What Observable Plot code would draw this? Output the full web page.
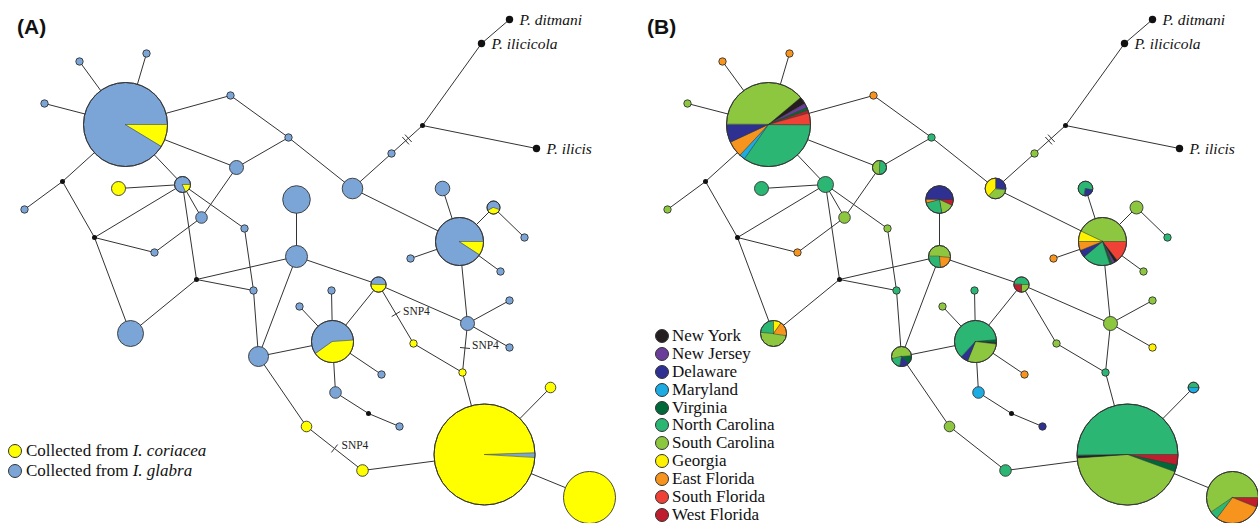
<!DOCTYPE html>
<html><head><meta charset="utf-8">
<script src="https://cdn.jsdelivr.net/npm/d3@7"></script>
<script src="https://cdn.jsdelivr.net/npm/@observablehq/plot@0.6"></script>
<style>
html,body{margin:0;padding:0;background:#fff;}
#wrap{position:relative;width:1258px;height:523px;overflow:hidden;background:#fff;}
.panel{position:absolute;top:0;}
.tag{position:absolute;top:15px;font-family:Arial,"Liberation Sans",sans-serif;font-weight:bold;font-size:21px;color:#111;}
.legend{position:absolute;font-family:"Liberation Serif","Times New Roman",serif;font-size:17px;color:#111;}
.legend .row{display:flex;align-items:center;white-space:nowrap;}
.legend .sw{display:inline-block;box-sizing:border-box;border:1px solid #333;border-radius:50%;}
</style></head>
<body>
<div id="wrap">
  <div class="panel" id="pA" style="left:0;width:643px"></div>
  <div class="panel" id="pB" style="left:643px;width:615px"></div>
  <div class="tag" style="left:17px">(A)</div>
  <div class="tag" style="left:647px">(B)</div>
  <div class="legend" id="legA" style="left:8px;top:441px"></div>
  <div class="legend" id="legB" style="left:655px;top:327px"></div>
</div>
<script>
// ---- network layout: id, x, y, radius (same layout in both panels) ----
const nodes = [
 ["n1",125,124,42],["n2",79,61,3.7],["n3",146,53,3.7],["n4",44,103,3.7],
 ["n5",230,95,3.7],["n6",288,137,3.7],["n7",236,167,7],["n8",182,184,8],
 ["n9",118,188,7],["b1",62,181,2.5],["n10",24,209,3.7],["b2",94,237,2.5],
 ["n11",201,217,5.8],["n12",244,228,3.7],["n13",154,252,3.7],["n14",296,199,13.8],
 ["n15",296,256,11],["b3",196,279,2.5],["n16",253,290,3.7],["n17",130,333,13],
 ["n18",258,356,10],["n19",306,426,5.3],["n20",299,306,3.7],["n21",332,341,21],
 ["n22",331,290,3.7],["n23",381,374,3.7],["n24",335,392,5.8],["b4",368,413,2.5],
 ["n25",399,426,3.7],["n26",378,284,7.6],["n27",467,323,7],["n28",413,343,3.7],
 ["n29",462,372,3.7],["n30",509,300,3.7],["n31",509,347,3.7],["n32",484,454,50.5],
 ["n33",550,387,5.3],["n34",589,497,26],["n35",362,470,5.8],["n36",410,258,3.7],
 ["n37",459,241,24],["n38",442,188,7.3],["n39",493,207,6.5],["n40",524,237,3.7],
 ["n41",352,188,10.3],["n42",391,153,3.7],["n43",500,271,3.7],["b5",422,125,2.5],
 ["ditmani",509,19,3.7],["ilicicola",481,43,3.7],["ilicis",536,148,3.7]
];
const edges = [
 ["n1","n2"],["n1","n3"],["n1","n4"],["n1","n5"],["n1","n7"],["n1","n8"],["n1","b1"],
 ["n5","n6"],["n6","n7"],["n6","n41"],["b1","n10"],["b1","b2"],
 ["n8","n9"],["n8","b2"],["n8","n11"],["n8","n12"],["n8","b3"],
 ["b2","n13"],["b2","n17"],["n11","n7"],["n11","n13"],["n12","n16"],
 ["n14","n15"],["b3","n15"],["b3","n16"],["b3","n17"],["n16","n18"],["n15","n18"],["n15","n26"],
 ["n18","n21"],["n18","n19"],["n21","n20"],["n21","n22"],["n21","n23"],["n21","n24"],["n21","n26"],
 ["n24","b4"],["b4","n25"],["n26","n27"],["n26","n28"],["n28","n29"],
 ["n27","n37"],["n27","n30"],["n27","n31"],["n27","n29"],["n29","n32"],
 ["n32","n33"],["n32","n34"],["n32","n35"],["n35","n19"],
 ["n37","n36"],["n37","n38"],["n37","n39"],["n37","n43"],["n37","n41"],["n39","n40"],
 ["n41","n42"],["n42","b5"],["b5","ilicicola"],["ilicicola","ditmani"],["b5","ilicis"]
];
const blackNodes = ["b1","b2","b3","b4","b5","ditmani","ilicicola","ilicis"];
const outgroupLabels = [["ditmani","P. ditmani"],["ilicicola","P. ilicicola"],["ilicis","P. ilicis"]];
const snpEdges = [["n26","n28","SNP4"],["n27","n29","SNP4"],["n19","n35","SNP4"]];
const hashEdges = [["n42","b5"]];

// ---- panel A: host plant ----
const hosts = ["I. coriacea","I. glabra"];
const hostColors = ["#ffff00","#7ba5d7"];
const coriaceaNodes = ["n9","n19","n28","n29","n32","n33","n34","n35"];
// node, host, start angle, end angle (degrees clockwise from east)
const hostSlices = [
 ["n1","I. coriacea",0,31],["n8","I. coriacea",0,65],["n21","I. coriacea",-4,144],
 ["n26","I. coriacea",0,180],["n32","I. glabra",-2,3],["n37","I. coriacea",0,33],
 ["n39","I. coriacea",20,150]
];

// ---- panel B: geographic region ----
const regions = ["New York","New Jersey","Delaware","Maryland","Virginia","North Carolina","South Carolina","Georgia","East Florida","South Florida","West Florida"];
const regionColors = ["#231f20","#6a3d9a","#2e3192","#1cabe2","#00693a","#2bb673","#8dc63f","#fff200","#f7941d","#ef4136","#be1e2d"];
const regionBase = [
 ["n1","South Carolina"],["n2","East Florida"],["n3","East Florida"],["n4","South Carolina"],
 ["n5","East Florida"],["n6","North Carolina"],["n7","North Carolina"],["n8","North Carolina"],
 ["n9","North Carolina"],["n10","South Carolina"],["n11","South Carolina"],["n12","South Carolina"],
 ["n13","East Florida"],["n14","Delaware"],["n15","South Carolina"],["n16","North Carolina"],
 ["n17","South Carolina"],["n18","South Carolina"],["n19","South Carolina"],["n20","South Carolina"],
 ["n21","North Carolina"],["n22","North Carolina"],["n23","East Florida"],["n24","Maryland"],
 ["n25","Delaware"],["n26","North Carolina"],["n27","South Carolina"],["n28","South Carolina"],
 ["n29","North Carolina"],["n30","South Carolina"],["n31","Georgia"],["n32","North Carolina"],
 ["n33","North Carolina"],["n34","South Carolina"],["n35","North Carolina"],["n36","East Florida"],
 ["n37","South Carolina"],["n38","North Carolina"],["n39","South Carolina"],["n40","North Carolina"],
 ["n41","South Carolina"],["n42","South Carolina"],["n43","South Carolina"]
];
const regionSlices = [
 ["n1","North Carolina",0,125],["n1","Maryland",125,133],["n1","East Florida",133,155],["n1","Delaware",155,180],
 ["n1","New York",320,330],["n1","New Jersey",330,336],["n1","Virginia",336,340],["n1","West Florida",340,344],["n1","South Florida",344,360],
 ["n7","South Carolina",90,270],
 ["n14","West Florida",0,25],["n14","South Carolina",25,80],["n14","North Carolina",80,165],["n14","East Florida",165,180],
 ["n15","East Florida",5,85],["n15","North Carolina",85,180],
 ["n17","North Carolina",185,270],["n17","Georgia",270,305],["n17","East Florida",305,368],
 ["n18","Virginia",-5,45],["n18","Delaware",45,100],["n18","North Carolina",100,165],
 ["n21","Virginia",355,363],["n21","New York",363,367],["n21","South Carolina",367,472],["n21","Delaware",472,492],
 ["n26","South Carolina",0,90],["n26","West Florida",90,180],
 ["n32","West Florida",0,12],["n32","Virginia",12,20],["n32","South Carolina",20,176],["n32","New York",176,179],
 ["n33","Maryland",0,180],
 ["n34","West Florida",0,22],["n34","East Florida",22,127],["n34","North Carolina",127,145],
 ["n37","South Florida",0,52],["n37","New York",52,60],["n37","New Jersey",60,66],["n37","Virginia",66,72],
 ["n37","North Carolina",72,140],["n37","Delaware",140,158],["n37","East Florida",158,180],["n37","Georgia",180,205],
 ["n38","Delaware",10,100],
 ["n41","Delaware",-90,5],["n41","Georgia",133,270]
];

const pos = new Map(nodes.map(d => [d[0], {id: d[0], x: d[1], y: d[2], r: d[3]}]));

function drawPanel(width, baseColor, slices, showSnp) {
  const nodeData = nodes.map(d => ({...pos.get(d[0]), fill: baseColor(d[0])}));
  const edgeData = edges.map(([a, b]) => ({x1: pos.get(a).x, y1: pos.get(a).y, x2: pos.get(b).x, y2: pos.get(b).y}));
  // pie wedges
  const wedge = [];
  slices.forEach((s, i) => {
    const n = pos.get(s[0]);
    const id = s[0] + "-" + i;
    wedge.push({id, x: n.x, y: n.y, fill: s[1]});
    const a0 = s[2], a1 = s[3];
    const steps = Math.max(2, Math.ceil((a1 - a0) / 2));
    for (let k = 0; k <= steps; k++) {
      const t = (a0 + (a1 - a0) * k / steps) * Math.PI / 180;
      wedge.push({id, x: n.x + n.r * Math.cos(t), y: n.y + n.r * Math.sin(t), fill: s[1]});
    }
  });
  const pieIds = new Set(slices.map(s => s[0]));
  const pieNodes = nodeData.filter(d => pieIds.has(d.id));
  // mutation ticks
  const ticks = [];
  function addTicks(a, b, offsets) {
    const p = pos.get(a), q = pos.get(b);
    const dx = q.x - p.x, dy = q.y - p.y, L = Math.hypot(dx, dy);
    const ux = dx / L, uy = dy / L, nx = -uy, ny = ux;
    const mx = (p.x + q.x) / 2, my = (p.y + q.y) / 2;
    for (const o of offsets) {
      const cx = mx + ux * o, cy = my + uy * o;
      ticks.push({x1: cx - nx * 5, y1: cy - ny * 5, x2: cx + nx * 5, y2: cy + ny * 5});
    }
  }
  hashEdges.forEach(([a, b]) => addTicks(a, b, [-1.8, 1.8]));
  const snpLabels = [];
  if (showSnp) snpEdges.forEach(([a, b, lab]) => {
    addTicks(a, b, [0]);
    const p = pos.get(a), q = pos.get(b);
    snpLabels.push({x: (p.x + q.x) / 2, y: (p.y + q.y) / 2, label: lab});
  });
  const labels = outgroupLabels.map(([id, lab]) => ({x: pos.get(id).x, y: pos.get(id).y, label: lab}));
  const isBlack = new Set(blackNodes);

  return Plot.plot({
    width, height: 523, margin: 0,
    style: {background: "#fff", overflow: "visible"},
    x: {domain: [0, width], range: [0, width], axis: null},
    y: {domain: [0, 523], range: [0, 523], axis: null},
    r: {type: "identity"},
    color: {type: "identity"},
    marks: [
      Plot.link(edgeData, {x1: "x1", y1: "y1", x2: "x2", y2: "y2", stroke: "#333", strokeWidth: 1}),
      Plot.link(ticks, {x1: "x1", y1: "y1", x2: "x2", y2: "y2", stroke: "#333", strokeWidth: 1}),
      Plot.dot(nodeData.filter(d => !isBlack.has(d.id)), {x: "x", y: "y", r: "r", fill: "fill", stroke: "#333", strokeWidth: 0.9}),
      Plot.dot(nodeData.filter(d => isBlack.has(d.id)), {x: "x", y: "y", r: "r", fill: "#111"}),
      Plot.line(wedge, {x: "x", y: "y", z: "id", fill: "fill", stroke: "#333", strokeWidth: 0.5, curve: "linear-closed"}),
      Plot.dot(pieNodes, {x: "x", y: "y", r: "r", fill: "none", stroke: "#333", strokeWidth: 0.9}),
      Plot.text(labels, {x: "x", y: "y", text: "label", dx: 10, dy: 1, textAnchor: "start", fontFamily: "Liberation Serif", fontStyle: "italic", fontSize: 15.5, fill: "#111"}),
      Plot.text(snpLabels, {x: "x", y: "y", text: "label", dx: 7, dy: -3, textAnchor: "start", fontFamily: "Liberation Serif", fontSize: 11.5, fill: "#222"})
    ]
  });
}

const hostColor = new Map(hosts.map((h, i) => [h, hostColors[i]]));
const regionColor = new Map(regions.map((h, i) => [h, regionColors[i]]));
const coriaceaSet = new Set(coriaceaNodes);
const regionBaseMap = new Map(regionBase);

document.getElementById("pA").append(drawPanel(643,
  id => hostColor.get(coriaceaSet.has(id) ? "I. coriacea" : "I. glabra"),
  hostSlices.map(s => [s[0], hostColor.get(s[1]), s[2], s[3]]), true));
document.getElementById("pB").append(drawPanel(615,
  id => regionColor.get(regionBaseMap.get(id)) || "#111",
  regionSlices.map(s => [s[0], regionColor.get(s[1]), s[2], s[3]]), false));

// legends
function legend(el, items, rowH, d, gap) {
  items.forEach(([html, col]) => {
    const row = document.createElement("div");
    row.className = "row"; row.style.height = rowH + "px";
    const sw = document.createElement("span");
    sw.className = "sw"; sw.style.width = d + "px"; sw.style.height = d + "px"; sw.style.background = col;
    sw.style.marginRight = gap + "px";
    const t = document.createElement("span"); t.innerHTML = html;
    row.append(sw, t); el.append(row);
  });
}
legend(document.getElementById("legA"),
  [["Collected from <i>" + hosts[0] + "</i>", hostColors[0]], ["Collected from <i>" + hosts[1] + "</i>", hostColors[1]]], 20, 14, 4);
legend(document.getElementById("legB"), regions.map((r, i) => [r, regionColors[i]]), 17.9, 14, 3);
</script>
</body></html>
